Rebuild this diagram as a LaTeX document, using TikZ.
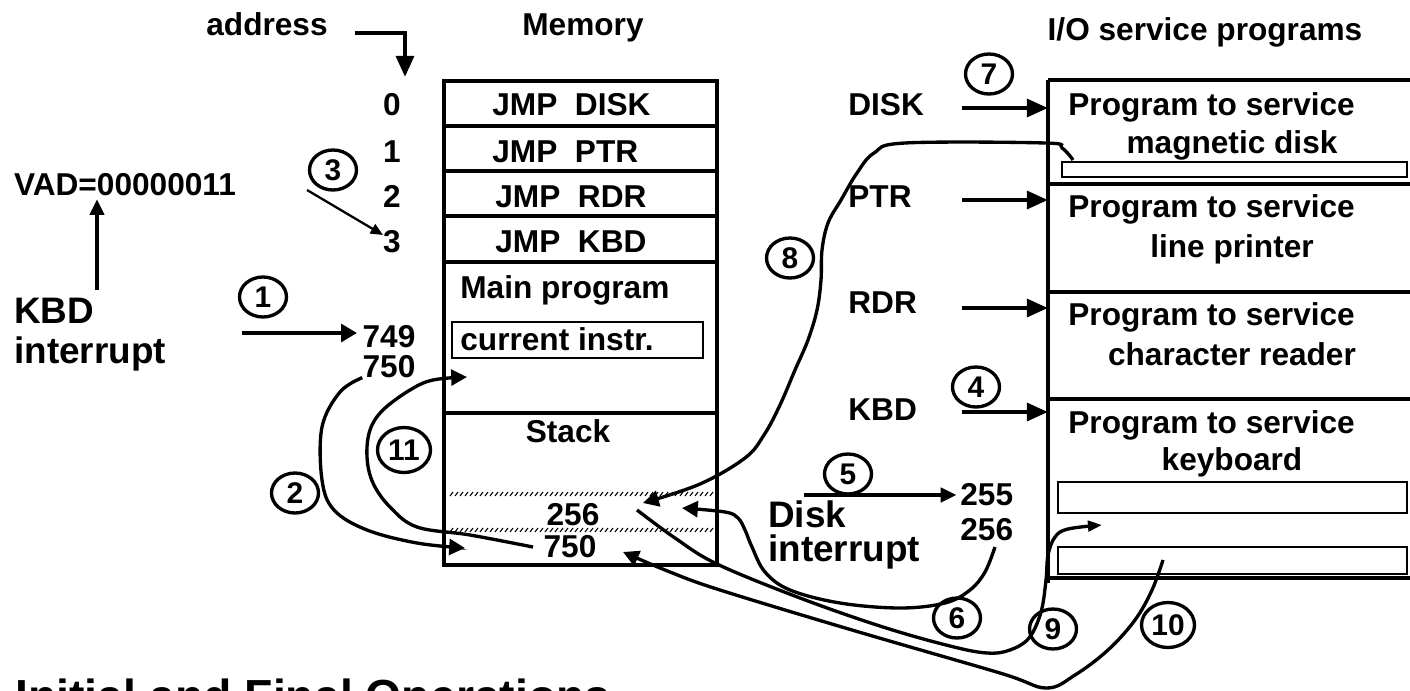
\documentclass[tikz,border=0pt]{standalone}
\usepackage{fontspec}
\setmainfont{Liberation Sans}
\usetikzlibrary{arrows.meta,shapes.geometric}
\tikzset{
  lbl/.style={font=\fontsize{18}{21}\selectfont\bfseries,inner sep=0pt,anchor=base},
  biglbl/.style={font=\fontsize{21}{24}\selectfont\bfseries,inner sep=0pt,anchor=base west},
  stepnum/.style={draw,ellipse,line width=1.9pt,inner sep=0pt,minimum width=0.94cm,
    minimum height=0.8cm,font=\fontsize{17}{17}\selectfont\bfseries},
  widestep/.style={stepnum,minimum width=1.06cm,minimum height=0.9cm},
  frame/.style={line width=2.1pt},
  slot/.style={line width=1.1pt},
  feed/.style={line width=2.5pt,-{Triangle[length=12pt,width=10pt]}},
  flow/.style={line width=1.9pt,-{Triangle[length=9pt,width=9pt]}},
  thinflow/.style={line width=1.3pt,-{Triangle[length=7pt,width=6pt]}}
}
\begin{document}
\begin{tikzpicture}[x=0.02cm,y=-0.02cm]
  \useasboundingbox (0,0) rectangle (1410,690);

  % headings
  \node[lbl] (haddr) at (267,35) {address};
  \node[lbl] (hmem) at (583,35) {Memory};
  \node[lbl] (hio) at (1205,40) {I/O service programs};

  % memory
  \draw[frame] (444,81) rectangle (717,565);
  \foreach \r in {126,171,216,262,413}{\draw[frame] (444,\r) -- (717,\r);}
  \node[lbl,anchor=base west] (jdisk) at (492,115) {JMP~~DISK};
  \node[lbl,anchor=base west] (jptr) at (492,162) {JMP~~PTR};
  \node[lbl,anchor=base west] (jrdr) at (495,207) {JMP~~RDR};
  \node[lbl,anchor=base west] (jkbd) at (495,252) {JMP~~KBD};
  \node[lbl,anchor=base west] (mainp) at (460,298) {Main program};
  \draw[slot] (452,322) rectangle (703,358);
  \node[lbl,anchor=base west] (cur) at (460,350) {current instr.};
  \node[lbl] (stk) at (568,442) {Stack};
  \foreach \hy in {494,530}{
    \foreach \hx in {450,455,...,710}{\draw[line width=0.6pt] (\hx,\hy+2) -- (\hx+3,\hy-2);}
  }
  \node[lbl] (s256) at (573,525) {256};
  \node[lbl] (s750) at (570,557) {750};

  % addresses
  \foreach \a/\b in {0/115,1/162,2/207,3/252}{\node[lbl] (adr\a) at (392,\b) {\a};}
  \node[lbl] (a749) at (389,347) {749};
  \node[lbl] (a750) at (389,377) {750};
  \coordinate (addrA) at (355,33);
  \coordinate (addrB) at (405,77);
  \draw[feed] (addrA) -| (addrB);

  % keyboard interrupt
  \node[lbl] (vad) at (125,195) {VAD=00000011};
  \node[biglbl] (kbd) at (14,323) {KBD};
  \node[biglbl] (kbdint) at (14,363) {interrupt};
  \coordinate (vadup) at (97,290);
  \draw[feed,-{Triangle[length=9pt,width=8pt]}] (vadup) -- ([yshift=-2pt]vadup |- vad.south);
  \coordinate (kin) at (242,333);
  \draw[feed,-{Triangle[length=9pt,width=10pt]}] (kin) -- ([xshift=-3pt]kin -| a749.west);
  \coordinate (v3a) at (307,190);
  \coordinate (v3b) at (383,235);
  \draw[thinflow] (v3a) -- (v3b);

  % I/O service programs
  \draw[frame] (1048,80) -- (1048,583);
  \foreach \r in {80,184,292,399,578}{\draw[frame] (1048,\r) -- (1420,\r);}
  \draw[slot] (1062,162) rectangle (1407,177);
  \draw[slot] (1058,482) rectangle (1407,513);
  \draw[slot] (1058,547) rectangle (1407,574);
  \foreach \nm/\ya/\yb/\txt in {pdisk/115/153/magnetic disk,pptr/217/257/line printer,
      prdr/325/365/character reader,pkbd/433/470/keyboard}{
    \node[lbl,anchor=base west] (\nm) at (1068,\ya) {Program to service};
    \node[lbl] (\nm b) at (1232,\yb) {\txt};
  }
  \foreach \d/\ya/\yb in {DISK/115/108,PTR/207/200,RDR/313/308,KBD/420/412}{
    \node[lbl,anchor=base west] (dev\d) at (848,\ya) {\d};
    \coordinate (src\d) at (962,\yb);
    \coordinate (dst\d) at (1048,\yb);
    \draw[feed] (src\d) -- (dst\d);
  }

  % disk interrupt
  \node[biglbl] (dint) at (768,527) {Disk};
  \node[biglbl] (dintb) at (768,561) {interrupt};
  \node[lbl,anchor=base west] (d255) at (960,505) {255};
  \node[lbl,anchor=base west] (d256) at (960,540) {256};
  \coordinate (din) at (804,495);
  \draw[feed,-{Triangle[length=9pt,width=8pt]}] (din) -- ([xshift=-2pt]din -| d255.west);

  % step numbers
  \node[stepnum] (st1) at (263,297) {1};
  \node[stepnum] (st2) at (295,493) {2};
  \node[stepnum] (st3) at (333,170) {3};
  \node[stepnum] (st4) at (976,387) {4};
  \node[stepnum] (st5) at (848,474) {5};
  \node[stepnum] (st6) at (957,618) {6};
  \node[stepnum] (st7) at (989,74) {7};
  \node[stepnum] (st8) at (790,258) {8};
  \node[stepnum] (st9) at (1053,629) {9};
  \node[widestep] (st10) at (1168,625) {10};
  \node[widestep] (st11) at (404,450) {11};

  % curved transfers
  \coordinate (c2b) at (465,548);
  \draw[flow] plot[smooth,tension=0.6] coordinates {(a750.south west) (340,392) (322,427)
    (322,480) (334,510) (367,530) (417,543) (c2b)};
  \coordinate (c11a) at (533,547);
  \coordinate (c11b) at (467,377);
  \draw[flow] plot[smooth,tension=0.6] coordinates {(c11a) (470,535) (417,527) (390,507)
    (373,483) (367,457) (370,430) (383,410) (410,390) (433,380) (c11b)};
  \coordinate (c8a) at (1073,160);
  \coordinate (c8b) at (643,503);
  \draw[flow] plot[smooth,tension=0.6] coordinates {(c8a) (1062,148) (1045,143) (905,143)
    (874,153) (857,173) (841,200) (828,223) (822,250) (821,280) (817,310) (808,340)
    (795,370) (780,405) (764,435) (745,458) (700,484) (c8b)};
  \coordinate (c6a) at (995,547);
  \coordinate (c6b) at (682,508);
  \draw[flow] plot[smooth,tension=0.6] coordinates {(c6a) (985,572) (970,590) (945,603)
    (900,608) (840,603) (790,590) (765,572) (752,547) (745,530) (738,518) (725,512) (c6b)};
  \coordinate (c9a) at (637,510);
  \coordinate (c9b) at (1102,525);
  \draw[thinflow,line width=1.9pt,-{Triangle[length=8pt,width=6pt]}] plot[smooth,tension=0.6]
    coordinates {(c9a) (675,538) (717,564) (800,598) (883,627) (950,646) (987,653)
    (1010,650) (1029,638) (1041,612) (1046,580) (1048,555) (1055,537) (1068,529) (c9b)};
  \coordinate (c10a) at (1163,560);
  \coordinate (c10b) at (623,552);
  \draw[flow] plot[smooth,tension=0.6] coordinates {(c10a) (1152,590) (1135,620)
    (1108,650) (1075,675) (1046,688) (1000,673) (852,630) (720,590) (670,572) (c10b)};

  % title, cut by the page edge
  \node[font=\fontsize{26.4}{30}\selectfont\bfseries,inner sep=0pt,anchor=base west]
    (title) at (15,712) {Initial and Final Operations};
\end{tikzpicture}
\end{document}
